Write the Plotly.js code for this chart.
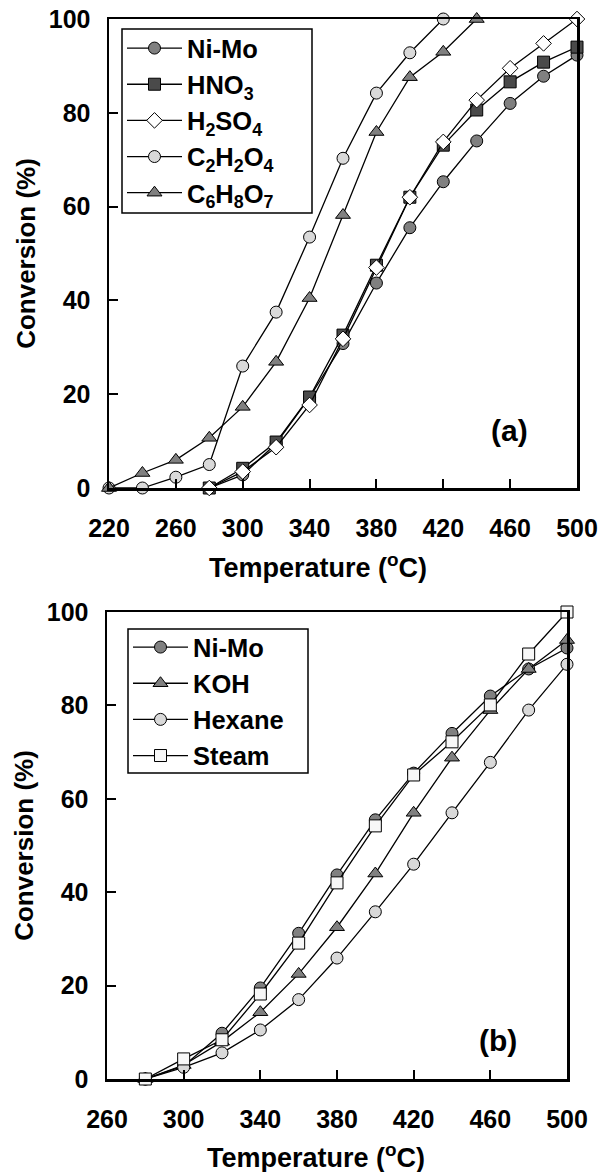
<!DOCTYPE html>
<html>
<head>
<meta charset="utf-8">
<script src="https://cdn.plot.ly/plotly-3.0.1.min.js"></script>
<style>
html,body{margin:0;padding:0;background:#fff;}
#chart{width:600px;height:1172px;}
</style>
</head>
<body>
<div id="chart"></div>
<script>
// ---- Panel (a) data ----
const tempA_NiMo = [280,300,320,340,360,380,400,420,440,460,480,500];
const convA_NiMo = [0,2.8,9.5,19.3,30.8,43.7,55.5,65.3,74,82,87.8,92.3];
const tempA_HNO3 = [280,300,320,340,360,380,400,420,440,460,480,500];
const convA_HNO3 = [0,4.2,9.8,19.4,32.6,47.5,62,73.1,80.6,86.6,90.8,94];
const tempA_H2SO4 = [280,300,320,340,360,380,400,420,440,460,480,500];
const convA_H2SO4 = [0,3.5,8.7,17.7,31.8,47,62,73.8,82.7,89.5,94.8,100];
const tempA_C2H2O4 = [220,240,260,280,300,320,340,360,380,400,420];
const convA_C2H2O4 = [0,0,2.3,5,26,37.5,53.5,70.3,84.2,92.8,100];
const tempA_C6H8O7 = [220,240,260,280,300,320,340,360,380,400,420,440];
const convA_C6H8O7 = [0,3.2,6,10.7,17.3,26.9,40.5,58.2,75.9,87.6,93,100];
const namesA = ['Ni-Mo','HNO<sub>3</sub>','H<sub>2</sub>SO<sub>4</sub>','C<sub>2</sub>H<sub>2</sub>O<sub>4</sub>','C<sub>6</sub>H<sub>8</sub>O<sub>7</sub>'];
const ticksA = [220,260,300,340,380,420,460,500];

// ---- Panel (b) data ----
const tempB = [280,300,320,340,360,380,400,420,440,460,480,500];
const convB_NiMo = [0,2.8,9.8,19.5,31.2,43.7,55.5,65.5,74,82,87.8,92.3];
const convB_KOH = [0,3,8,14.3,22.5,32.5,44,57,68.8,79,87.8,94];
const convB_Hexane = [0,2.5,5.6,10.5,17,25.9,35.8,46,57,67.8,79,88.8];
const convB_Steam = [0,4.3,8.4,18.2,29.1,42,54.2,65.1,72.2,80.1,91,100];
const namesB = ['Ni-Mo','KOH','Hexane','Steam'];
const ticksB = [260,300,340,380,420,460,500];
const yTicks = [0,20,40,60,80,100];

const xTitle = 'Temperature (<sup>o</sup>C)';
const yTitle = 'Conversion (%)';
const panelLabels = ['(a)', '(b)'];

const FONT = 'Liberation Sans, Arial, sans-serif';

function tr(x, y, name, symbol, fill, size, xa, ya, leg) {
  return {
    x: x, y: y, name: name, type: 'scatter', mode: 'lines+markers',
    xaxis: xa, yaxis: ya, legend: leg, cliponaxis: false,
    line: {color: '#000', width: 1.3},
    marker: {symbol: symbol, size: size, color: fill, line: {color: '#000', width: 1}}
  };
}

const data = [
  tr(tempA_NiMo, convA_NiMo, namesA[0], 'circle', '#808080', 12, 'x', 'y', 'legend'),
  tr(tempA_HNO3, convA_HNO3, namesA[1], 'square', '#4a4a4a', 12, 'x', 'y', 'legend'),
  tr(tempA_H2SO4, convA_H2SO4, namesA[2], 'diamond', '#ffffff', 12, 'x', 'y', 'legend'),
  tr(tempA_C2H2O4, convA_C2H2O4, namesA[3], 'circle', '#d9d9d9', 12, 'x', 'y', 'legend'),
  tr(tempA_C6H8O7, convA_C6H8O7, namesA[4], 'triangle-up', '#808080', 13, 'x', 'y', 'legend'),
  tr(tempB, convB_NiMo, namesB[0], 'circle', '#808080', 12, 'x2', 'y2', 'legend2'),
  tr(tempB, convB_KOH, namesB[1], 'triangle-up', '#808080', 13, 'x2', 'y2', 'legend2'),
  tr(tempB, convB_Hexane, namesB[2], 'circle', '#d9d9d9', 12, 'x2', 'y2', 'legend2'),
  tr(tempB, convB_Steam, namesB[3], 'square', '#f7f7f7', 12, 'x2', 'y2', 'legend2')
];

const tickFont = {family: FONT, size: 25, color: '#000', weight: 'bold'};

function xax(domain, range, ticks, anchor) {
  return {
    domain: domain, range: range, anchor: anchor,
    tickmode: 'array', tickvals: ticks, ticktext: ticks.map(String),
    showline: true, mirror: true, linecolor: '#000', linewidth: 2.5,
    ticks: 'inside', ticklen: 9, tickwidth: 2, tickcolor: '#000',
    showgrid: false, zeroline: false, tickfont: tickFont,
    ticklabelstandoff: 16
  };
}
function yax(domain, anchor) {
  return {
    domain: domain, range: [0, 100], anchor: anchor,
    tickmode: 'array', tickvals: yTicks, ticktext: yTicks.map(String),
    showline: true, mirror: true, linecolor: '#000', linewidth: 2.5,
    ticks: 'inside', ticklen: 9, tickwidth: 2, tickcolor: '#000',
    showgrid: false, zeroline: false, tickfont: tickFont,
    ticklabelstandoff: 11,
    title: {text: yTitle, font: {family: FONT, size: 26, color: '#000', weight: 'bold'}, standoff: 6}
  };
}

const legBase = {
  xanchor: 'left', yanchor: 'top', bgcolor: 'rgba(0,0,0,0)',
  borderwidth: 0,
  font: {family: FONT, size: 25.5, color: '#000', weight: 'bold'},
  itemwidth: 55, tracegroupgap: 0
};

function ann(text, x, y, size) {
  return {text: text, x: x / 600, y: 1 - y / 1172, xref: 'paper', yref: 'paper',
    xanchor: 'center', yanchor: 'middle', showarrow: false,
    font: {family: FONT, size: size, color: '#000', weight: 'bold'}};
}
function box(x0, y0, x1, y1) {
  return {type: 'rect', xref: 'paper', yref: 'paper', layer: 'below',
    x0: x0 / 600, x1: x1 / 600, y0: 1 - y0 / 1172, y1: 1 - y1 / 1172,
    fillcolor: '#fff', line: {color: '#000', width: 1.5}};
}

const layout = {
  width: 600, height: 1172,
  margin: {l: 0, r: 0, t: 0, b: 0},
  paper_bgcolor: '#fff', plot_bgcolor: 'rgba(0,0,0,0)',
  showlegend: true,
  xaxis: xax([109/600, 577/600], [220, 500], ticksA, 'y'),
  yaxis: yax([1 - 488/1172, 1 - 19/1172], 'x'),
  xaxis2: xax([107/600, 567/600], [260, 500], ticksB, 'y2'),
  yaxis2: yax([1 - 1079/1172, 1 - 612/1172], 'x2'),
  legend: Object.assign({}, legBase, {x: 122/600, y: 1 - 25/1172}),
  legend2: Object.assign({}, legBase, {x: 128/600, y: 1 - 624/1172}),
  shapes: [box(122, 29, 312, 213), box(128, 629, 308, 773)],
  annotations: [
    ann(xTitle, 318, 566, 27),
    ann(xTitle, 316, 1156, 27),
    ann(panelLabels[0], 509, 431, 30),
    ann(panelLabels[1], 498, 1040, 30)
  ]
};

Plotly.newPlot('chart', data, layout, {displayModeBar: false, staticPlot: true});
</script>
</body>
</html>
